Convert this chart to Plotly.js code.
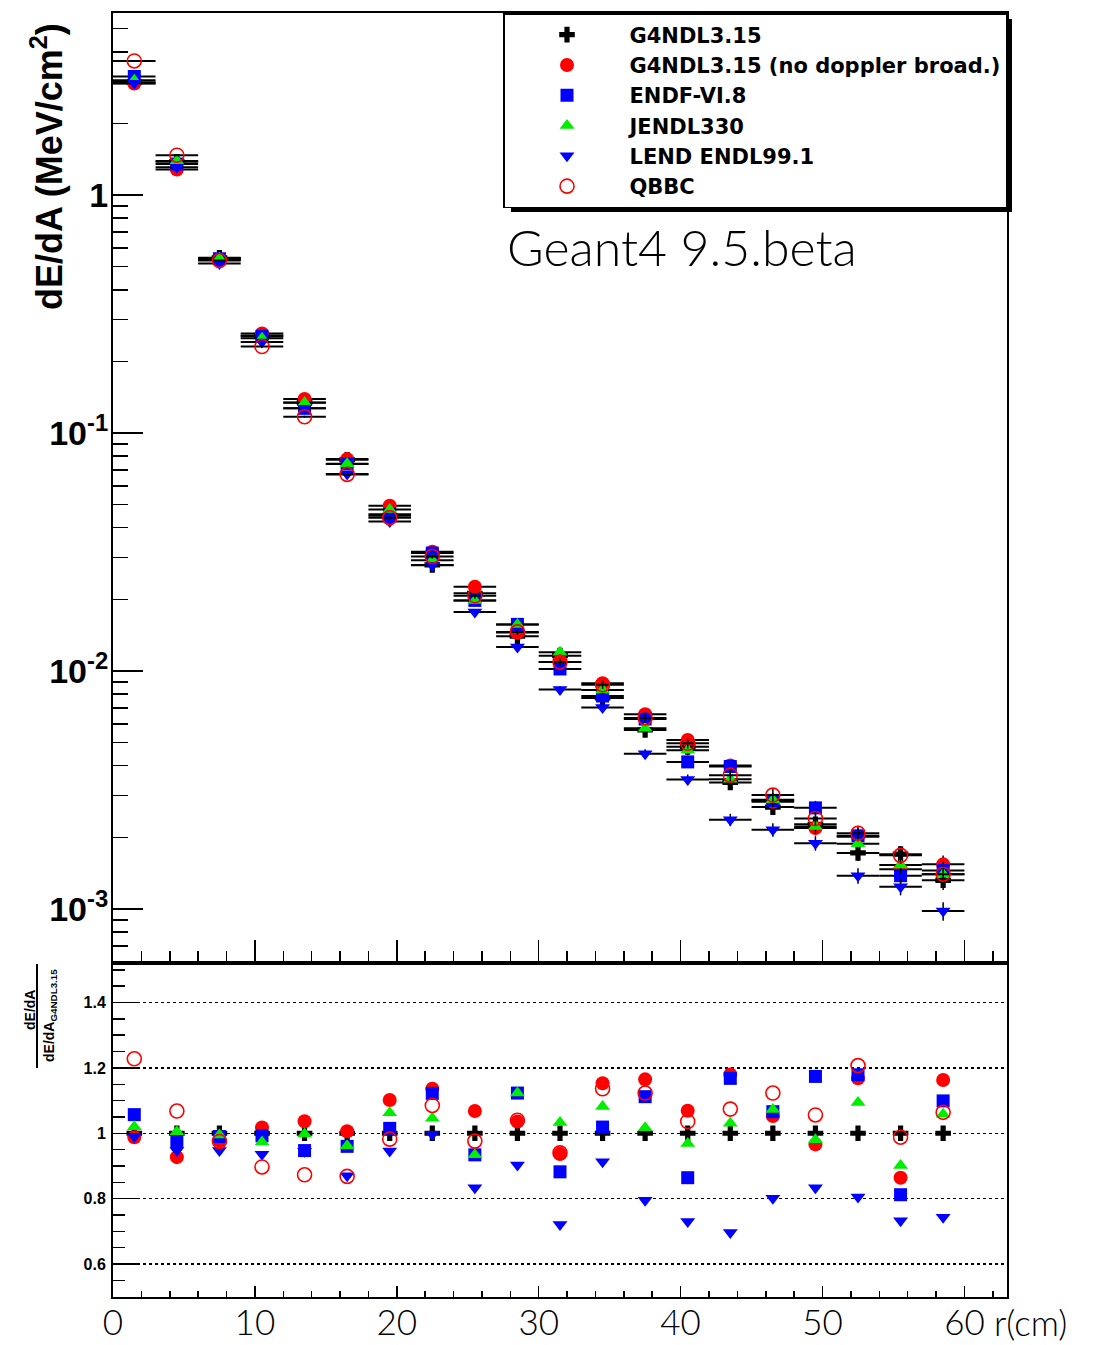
<!DOCTYPE html>
<html>
<head>
<meta charset="utf-8">
<script src="https://cdn.plot.ly/plotly-3.0.1.min.js"></script>
<style>html,body{margin:0;padding:0;background:#fff;}#chart{width:1099px;height:1345px;}</style>
</head>
<body>
<div id="chart"></div>
<script>
// ---- data ----
const rBins = [1.5, 4.5, 7.5, 10.5, 13.5, 16.5, 19.5, 22.5, 25.5, 28.5, 31.5, 34.5, 37.5, 40.5, 43.5, 46.5, 49.5, 52.5, 55.5, 58.5];
const binHalfWidth = 1.5;

const seriesNames = ["G4NDL3.15", "G4NDL3.15 (no doppler broad.)", "ENDF-VI.8", "JENDL330", "LEND ENDL99.1", "QBBC"];

// dE/dA (MeV/cm2)
const dEdA_G4NDL = [2.98, 1.38, 0.545, 0.257, 0.1345, 0.0772, 0.0449, 0.0279, 0.0212, 0.0140, 0.0116, 0.0077, 0.00565, 0.0048, 0.0034, 0.00268, 0.00227, 0.00172, 0.0017, 0.00132];
const dEdA_noDoppler = [2.94, 1.28, 0.533, 0.262, 0.139, 0.0777, 0.0495, 0.0317, 0.0226, 0.0145, 0.0109, 0.00888, 0.00658, 0.00513, 0.00401, 0.00282, 0.00219, 0.00201, 0.00147, 0.00154];
const dEdA_ENDF = [3.15, 1.35, 0.540, 0.255, 0.127, 0.0741, 0.0456, 0.0313, 0.0198, 0.0157, 0.0102, 0.00785, 0.00628, 0.00415, 0.00397, 0.00286, 0.00266, 0.00203, 0.00138, 0.00145];
const dEdA_JENDL = [3.04, 1.39, 0.542, 0.250, 0.134, 0.0743, 0.0477, 0.0292, 0.0198, 0.0157, 0.0120, 0.00833, 0.00575, 0.00465, 0.00351, 0.00288, 0.00222, 0.00188, 0.00153, 0.00140];
const dEdA_LEND = [2.95, 1.31, 0.516, 0.241, 0.127, 0.0672, 0.0425, 0.0278, 0.0177, 0.0126, 0.00836, 0.00703, 0.00449, 0.00350, 0.00237, 0.00215, 0.00189, 0.00138, 0.00124, 0.00098];
const dEdA_QBBC = [3.66, 1.47, 0.531, 0.231, 0.117, 0.0670, 0.0441, 0.0303, 0.0207, 0.0146, 0.0109, 0.00875, 0.00635, 0.00497, 0.00365, 0.00301, 0.00240, 0.00208, 0.00168, 0.00140];
// relative statistical error per bin
const relErr = [0.003, 0.004, 0.005, 0.007, 0.01, 0.012, 0.015, 0.02, 0.025, 0.03, 0.035, 0.04, 0.045, 0.05, 0.06, 0.065, 0.07, 0.075, 0.08, 0.09];

// ratio to G4NDL3.15
const ratio_G4NDL = [1, 1, 1, 1, 1, 1, 1, 1, 1, 1, 1, 1, 1, 1, 1, 1, 1, 1, 1, 1];
const ratio_noDoppler = [0.988, 0.927, 0.978, 1.018, 1.037, 1.006, 1.102, 1.136, 1.068, 1.036, 0.937, 1.153, 1.165, 1.069, 1.18, 1.053, 0.966, 1.168, 0.864, 1.163];
const ratio_ENDF = [1.057, 0.975, 0.99, 0.992, 0.947, 0.96, 1.015, 1.122, 0.934, 1.123, 0.882, 1.019, 1.112, 0.864, 1.168, 1.066, 1.174, 1.179, 0.812, 1.099];
const ratio_JENDL = [1.02, 1.005, 0.995, 0.973, 0.998, 0.962, 1.063, 1.046, 0.934, 1.123, 1.033, 1.082, 1.017, 0.969, 1.031, 1.073, 0.98, 1.094, 0.901, 1.058];
const ratio_LEND = [0.99, 0.947, 0.947, 0.936, 0.945, 0.87, 0.946, 0.997, 0.833, 0.903, 0.721, 0.913, 0.795, 0.73, 0.696, 0.801, 0.833, 0.805, 0.732, 0.743];
const ratio_QBBC = [1.228, 1.068, 0.975, 0.897, 0.873, 0.868, 0.982, 1.085, 0.976, 1.04, 0.94, 1.136, 1.123, 1.036, 1.074, 1.123, 1.056, 1.207, 0.988, 1.064];

// tick labels
const xTickVals = [0, 10, 20, 30, 40, 50, 60];
const xTickText = ["0", "10", "20", "30", "40", "50", "60"];
const yTopTickVals = [0.001, 0.01, 0.1, 1];
const yTopTickText = ["10<sup>-3</sup>", "10<sup>-2</sup>", "10<sup>-1</sup>", "1"];
const yLowTickVals = [0.6, 0.8, 1.0, 1.2, 1.4];
const yLowTickText = ["0.6", "0.8", "1", "1.2", "1.4"];

// ---- styles ----
const markerStyles = [
  {symbol: "cross", size: 13, color: "#000000", line: {width: 0}},
  {symbol: "circle", size: 14, color: "#ff0000", line: {width: 0}},
  {symbol: "square", size: 13, color: "#0000ff", line: {width: 0}},
  {symbol: "triangle-up", size: 13, color: "#00ee00", line: {width: 0}},
  {symbol: "triangle-down", size: 13, color: "#0000ff", line: {width: 0}},
  {symbol: "circle-open", size: 14, color: "#ff0000", line: {width: 1.6, color: "#ff0000"}}
];
const topSeries = [dEdA_G4NDL, dEdA_noDoppler, dEdA_ENDF, dEdA_JENDL, dEdA_LEND, dEdA_QBBC];
const lowSeries = [ratio_G4NDL, ratio_noDoppler, ratio_ENDF, ratio_JENDL, ratio_LEND, ratio_QBBC];

const traces = [];
topSeries.forEach((vals, i) => {
  traces.push({
    type: "scatter", mode: "markers", name: seriesNames[i],
    x: rBins, y: vals, xaxis: "x", yaxis: "y",
    marker: markerStyles[i],
    error_x: {type: "constant", value: binHalfWidth, color: "#000", thickness: 2, width: 0},
    error_y: {type: "data", array: vals.map((v, k) => v * relErr[k]), color: "#000", thickness: 1.5, width: 0},
    showlegend: true
  });
});
lowSeries.forEach((vals, i) => {
  traces.push({
    type: "scatter", mode: "markers", name: seriesNames[i],
    x: rBins, y: vals, xaxis: "x2", yaxis: "y2",
    marker: markerStyles[i], showlegend: false
  });
});

// minor ticks for log axis
const logMinor = [];
for (let d = -4; d <= 0; d++) for (let k = 2; k <= 9; k++) logMinor.push(k * Math.pow(10, d));

const W = 1099, H = 1345, L = 113, R = 1007, T = 13, B = 1297, SPLIT = 963;
const px2x = p => (p - L) / (R - L);
const px2y = p => (B - p) / (B - T);
const splitFrac = (B - SPLIT) / (B - T);

const boldFont = "Liberation Sans, Arial, Helvetica, sans-serif";
const legendFont = "DejaVu Sans, Liberation Sans, sans-serif";
const lightFont = "Lato, Open Sans, sans-serif";

const layout = {
  width: W, height: H,
  margin: {l: L, r: W - R, t: T, b: H - B, pad: 0},
  paper_bgcolor: "#fff", plot_bgcolor: "#fff",
  showlegend: true,
  legend: {
    x: 1, y: 1, xanchor: "right", yanchor: "top",
    bgcolor: "#fff", bordercolor: "#000", borderwidth: 1.5,
    font: {family: legendFont, size: 21, color: "#000", weight: "bold"},
    itemwidth: 115, tracegroupgap: 0
  },
  xaxis: {
    domain: [0, 1], anchor: "y", range: [0, 63], matches: "x2",
    showticklabels: false, ticks: "inside", tickmode: "linear", tick0: 0, dtick: 10,
    ticklen: 23, tickwidth: 1.5, tickcolor: "#000",
    minor: {ticks: "inside", dtick: 2, tick0: 0, ticklen: 12, tickwidth: 1.5, tickcolor: "#000", showgrid: false},
    showline: true, linecolor: "#000", linewidth: 2, mirror: true,
    showgrid: false, zeroline: false
  },
  yaxis: {
    domain: [splitFrac, 1], anchor: "x", type: "log", range: [-3.227, 0.765],
    tickmode: "array", tickvals: yTopTickVals, ticktext: yTopTickText,
    ticks: "inside", ticklen: 30, tickwidth: 1.5, tickcolor: "#000",
    minor: {ticks: "inside", tickmode: "array", tickvals: logMinor, ticklen: 15, tickwidth: 1.5, tickcolor: "#000", showgrid: false},
    tickfont: {family: boldFont, size: 34, color: "#000", weight: "bold"},
    ticklabelstandoff: -4,
    showline: true, linecolor: "#000", linewidth: 2, mirror: true,
    showgrid: false, zeroline: false
  },
  xaxis2: {
    domain: [0, 1], anchor: "y2", range: [0, 63],
    tickmode: "array", tickvals: xTickVals, ticktext: xTickText,
    ticks: "inside", ticklen: 11, tickwidth: 1.5, tickcolor: "#000",
    minor: {ticks: "inside", tickmode: "linear", dtick: 2, tick0: 0, ticklen: 6, tickwidth: 1.5, tickcolor: "#000", showgrid: false},
    tickfont: {family: lightFont, size: 35, color: "#000", weight: 300},
    ticklabelstandoff: -6,
    showline: true, linecolor: "#000", linewidth: 2, mirror: true,
    showgrid: false, zeroline: false
  },
  yaxis2: {
    domain: [0, splitFrac], anchor: "x2", range: [0.499, 1.521],
    tickmode: "array", tickvals: yLowTickVals, ticktext: yLowTickText,
    ticks: "inside", ticklen: 25, tickwidth: 1.5, tickcolor: "#000",
    minor: {ticks: "inside", tickmode: "linear", dtick: 0.05, tick0: 0, ticklen: 12, tickwidth: 1.5, tickcolor: "#000", showgrid: false},
    tickfont: {family: boldFont, size: 16, color: "#000", weight: "bold"},
    ticklabelstandoff: 2,
    showgrid: true, gridcolor: "#000", gridwidth: 1.5, griddash: "dot",
    showline: true, linecolor: "#000", linewidth: 2, mirror: true,
    zeroline: false
  },
  shapes: [
    // legend drop shadow
    {type: "rect", xref: "paper", yref: "paper", layer: "above",
     x0: px2x(511), x1: px2x(1012), y0: px2y(212), y1: px2y(19),
     fillcolor: "#000", line: {width: 0}},
    // fraction bar of lower y title
    {type: "line", xref: "paper", yref: "paper",
     x0: px2x(37), x1: px2x(37), y0: px2y(1068), y1: px2y(964),
     line: {color: "#000", width: 2}}
  ],
  annotations: [
    {xref: "paper", yref: "paper", x: px2x(47), y: px2y(167), xanchor: "center", yanchor: "middle",
     text: "dE/dA (MeV/cm<sup>2</sup>)", textangle: -90, showarrow: false,
     font: {family: boldFont, size: 36, color: "#000", weight: "bold"}},
    {xref: "paper", yref: "paper", x: px2x(30), y: px2y(1010), xanchor: "center", yanchor: "middle",
     text: "dE/dA", textangle: -90, showarrow: false,
     font: {family: boldFont, size: 14, color: "#000", weight: "bold"}},
    {xref: "paper", yref: "paper", x: px2x(50), y: px2y(1016), xanchor: "center", yanchor: "middle",
     text: "dE/dA<sub>G4NDL3.15</sub>", textangle: -90, showarrow: false,
     font: {family: boldFont, size: 14, color: "#000", weight: "bold"}},
    {xref: "paper", yref: "paper", x: px2x(505), y: px2y(247), xanchor: "left", yanchor: "middle",
     text: "Geant4 9.5.beta", showarrow: false,
     font: {family: lightFont, size: 50, color: "#000", weight: 300}},
    {xref: "paper", yref: "paper", x: px2x(992), y: px2y(1322), xanchor: "left", yanchor: "middle",
     text: "r(cm)", showarrow: false,
     font: {family: lightFont, size: 35, color: "#000", weight: 300}}
  ]
};

Plotly.newPlot("chart", traces, layout, {displayModeBar: false, staticPlot: true});
</script>
</body>
</html>
